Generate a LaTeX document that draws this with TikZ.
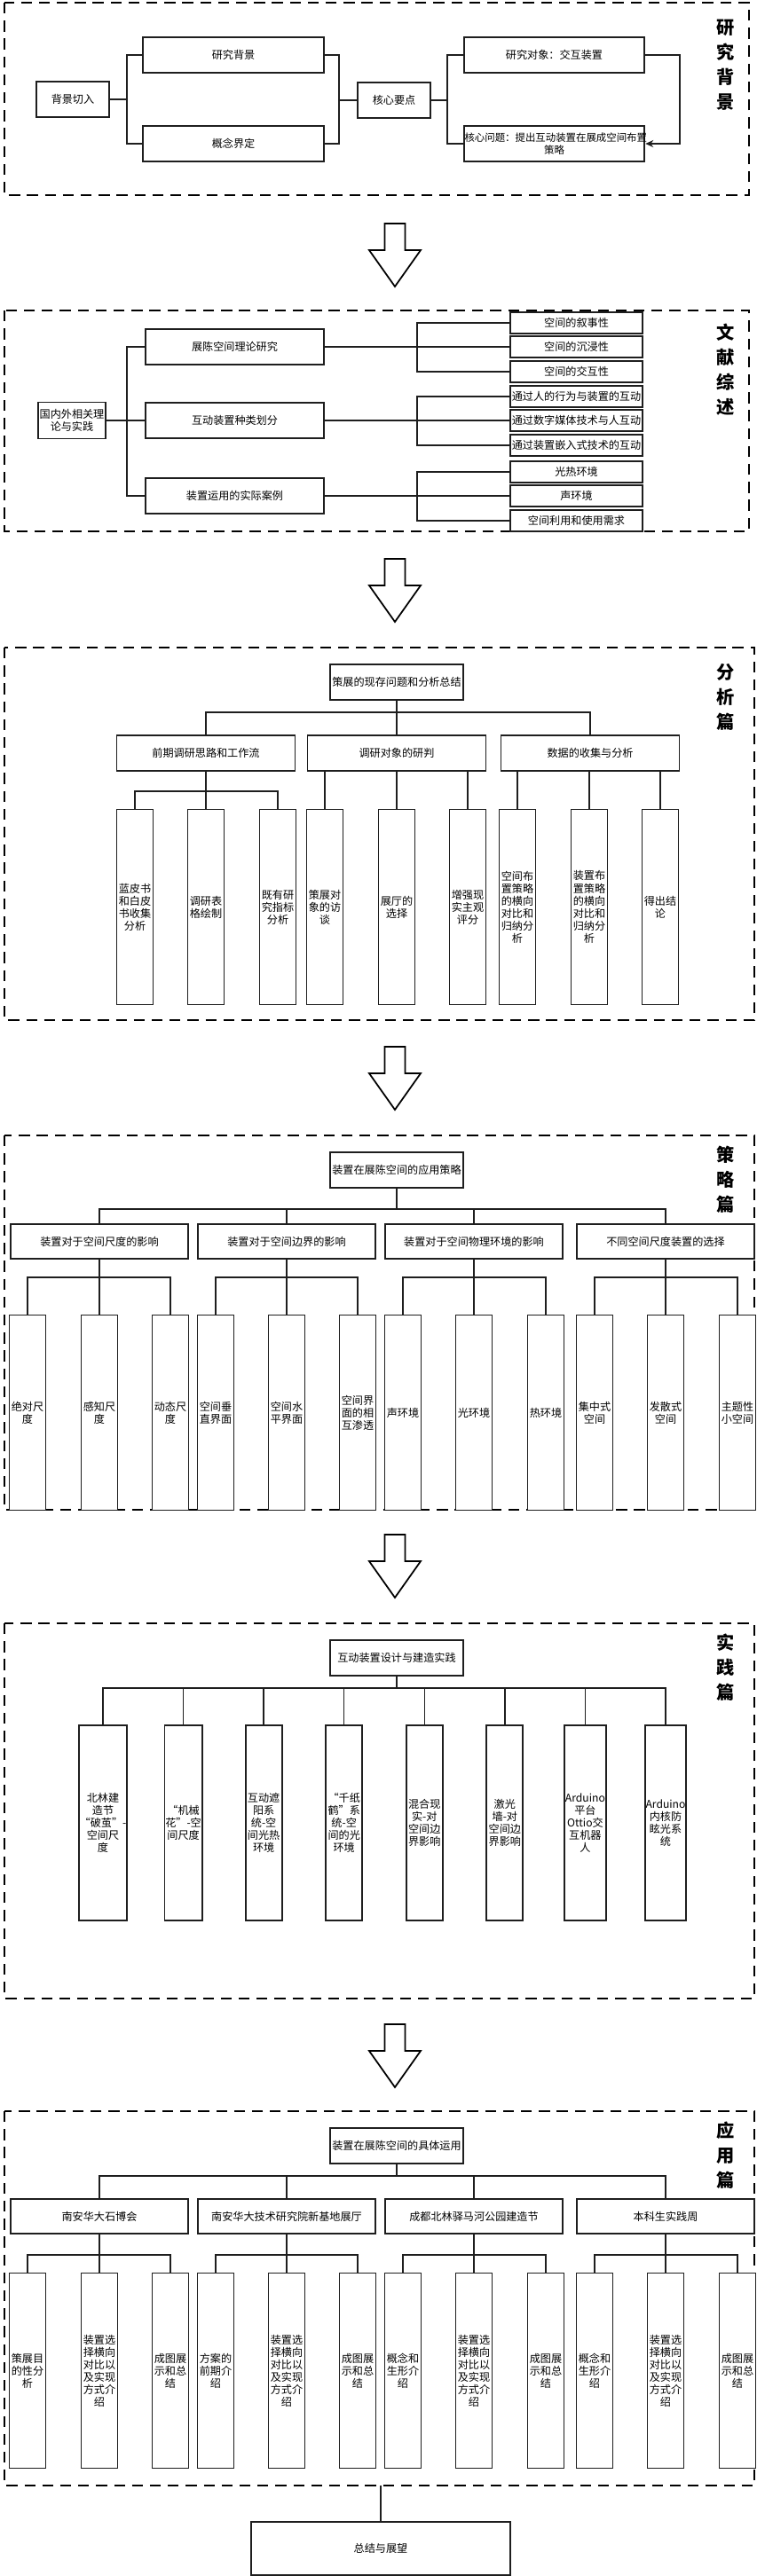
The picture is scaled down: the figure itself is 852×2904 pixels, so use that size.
\documentclass[tikz,border=0pt]{standalone}
\usepackage{fontspec}
\setmainfont{Noto Sans CJK SC}
\usetikzlibrary{arrows.meta,calc}
\definecolor{ink}{RGB}{30,30,30}
\newcommand\boxfont{\fontsize{6.9}{8}\selectfont}
\newcommand\tagfont{\fontsize{11.5}{15.9}\selectfont\bfseries}
\tikzset{
  >={Stealth[length=1.8mm,width=1.6mm]},
  box/.style={draw=ink,line width=1pt,fill=white,inner sep=0.5pt,align=center,
    font=\boxfont,minimum width=#1,minimum height=0.8cm},
  box/.default=4.02cm,
  leaf/.style={box=0.82cm,minimum height=4.4cm},
  item/.style={box=2.98cm,minimum height=0.48cm},
  link/.style={draw=ink,line width=0.85pt},
  frame/.style={draw=black,line width=1.4pt,dash pattern=on 7pt off 4.5pt},
  tag/.style={font=\tagfont,align=center,inner sep=0pt},
  bigarrow/.style={draw=black,line width=1pt,fill=white,line join=miter},
}

\begin{document}
\begin{tikzpicture}[x=0.02cm,y=-0.02cm]
\useasboundingbox (0,0) rectangle (852,2904);

% 研究背景
\draw[frame] (5,3) rectangle (844,220);
\node[tag] (t1) at (818,73) {研\\究\\背\\景};
\node[box=1.64cm] (bjqr) at (82,112) {背景切入};
\node[box=4.08cm] (yjbj) at (263,62) {研究背景};
\node[box=4.08cm] (gnjd) at (263,162) {概念界定};
\node[box=1.64cm] (hxyd) at (444,113) {核心要点};
\node[box=4.06cm] (yjdx) at (624.5,62) {研究对象：交互装置};
\node[box=4.06cm,text width=4.04cm,font=\fontsize{6.5}{8}\selectfont] (hxwt) at (624.5,162)
  {核心问题：提出互动装置在展成空间布置\\策略};
\coordinate (j0) at ($(bjqr.east)+(19,0)$);
\draw[link] (bjqr.east) -- (j0);
\draw[link] (yjbj.west) -| (j0) |- (gnjd.west);
\coordinate (j1) at ($(hxyd.west)+(-20,0)$);
\draw[link] (yjbj.east) -| (j1) |- (gnjd.east);
\draw[link] (j1) -- (hxyd.west);
\coordinate (j2) at ($(hxyd.east)+(18,0)$);
\draw[link] (hxyd.east) -- (j2);
\draw[link] (yjdx.west) -| (j2) |- (hxwt.west);
\draw[link,->] (yjdx.east) -- ++(39,0) |- (hxwt.east);

% 文献综述
\draw[frame] (5,350) rectangle (844,599);
\node[tag] (t2) at (818,417) {文\\献\\综\\述};
\node[box=1.52cm,minimum height=0.82cm] (gnw) at (81,474) {国内外相关理\\论与实践};
\node[box] (zlk) at (264.5,391) {展陈空间理论研究};
\node[box] (zzk) at (264.5,474) {互动装置种类划分};
\node[box] (alk) at (264.5,559) {装置运用的实际案例};
\foreach \y/\t [count=\i] in {364/空间的叙事性,391/空间的沉浸性,419/空间的交互性,
    447/通过人的行为与装置的互动,474/通过数字媒体技术与人互动,502/通过装置嵌入式技术的互动,
    532/光热环境,559/声环境,587/空间利用和使用需求}
  \node[item] (s\i) at (649.5,\y) {\t};
\coordinate (k0) at ($(gnw.east)+(23,0)$);
\draw[link] (gnw.east) -- (zzk.west);
\draw[link] (zlk.west) -| (k0) |- (alk.west);
\foreach \m/\a/\b/\c in {zlk/s1/s2/s3,zzk/s4/s5/s6,alk/s7/s8/s9} {
  \draw[link] (\m.east) -- (\b.west);
  \draw[link] (\a.west) -| ($(\m.east)!.5!(\b.west)$) |- (\c.west);
}

% 分析篇
\draw[frame] (5,730) rectangle (850,1150);
\node[tag] (t3) at (818,786) {分\\析\\篇};
\node[box=3cm] (fxzj) at (447,769) {策展的现存问题和分析总结};
\node[box] (qqdy) at (232,849) {前期调研思路和工作流};
\node[box] (dydx) at (447,849) {调研对象的研判};
\node[box] (sjfx) at (665,849) {数据的收集与分析};
\foreach \x/\t [count=\i] in {152/{蓝皮书\\和白皮\\书收集\\分析},232/{调研表\\格绘制},
    313/{既有研\\究指标\\分析},366/{策展对\\象的访\\谈},447/{展厅的\\选择},
    527/{增强现\\实主观\\评分},583/{空间布\\置策略\\的横向\\对比和\\归纳分\\析},
    664/{装置布\\置策略\\的横向\\对比和\\归纳分\\析},744/{得出结\\论}}
  \node[leaf] (a\i) at (\x,1022.5) {\t};
\coordinate (b3) at ($(fxzj.south)+(0,13)$);
\draw[link] (fxzj.south) -- (b3) -- (dydx.north);
\draw[link] (qqdy.north) |- (b3) -| (sjfx.north);
\coordinate (b31) at ($(qqdy.south)+(0,22)$);
\draw[link] (qqdy.south) -- (b31) -- (a2.north);
\draw[link] (a1.north) |- (b31) -| (a3.north);
\foreach \n in {4,5,6} \draw[link] (a\n.north) -- (a\n.north |- dydx.south);
\foreach \n in {7,8,9} \draw[link] (a\n.north) -- (a\n.north |- sjfx.south);

% 策略篇
\draw[frame] (5,1280) rectangle (850,1702);
\node[tag] (t4) at (818,1330) {策\\略\\篇};
\node[box=3cm] (clzl) at (447,1319) {装置在展陈空间的应用策略};
\foreach \x/\t [count=\i] in {112/装置对于空间尺度的影响,323/装置对于空间边界的影响,
    534/装置对于空间物理环境的影响,750/不同空间尺度装置的选择}
  \node[box=4cm,minimum height=0.78cm] (cd\i) at (\x,1399.5) {\t};
\foreach \x/\t [count=\i] in {31/{绝对尺\\度},112/{感知尺\\度},192/{动态尺\\度},
    243/{空间垂\\直界面},323/{空间水\\平界面},403/{空间界\\面的相\\互渗透},
    454/声环境,534/光环境,615/热环境,670/{集中式\\空间},750/{发散式\\空间},831/{主题性\\小空间}}
  \node[leaf] (c\i) at (\x,1592.5) {\t};
\coordinate (b4) at ($(clzl.south)+(0,23)$);
\draw[link] (clzl.south) -- (b4);
\draw[link] (cd1.north) |- (b4) -| (cd4.north);
\draw[link] (cd2.north) -- (cd2.north |- b4);
\draw[link] (cd3.north) -- (cd3.north |- b4);
\foreach \g/\a/\b/\c in {1/1/2/3,2/4/5/6,3/7/8/9,4/10/11/12} {
  \draw[link] (cd\g.south) -- (c\b.north);
  \draw[link] (c\a.north) |- ($(cd\g.south)+(0,20)$) -| (c\c.north);
}

% 实践篇
\draw[frame] (5,1830) rectangle (850,2253);
\node[tag] (t5) at (818,1880) {实\\践\\篇};
\node[box=3cm] (sjsj) at (447,1869) {互动装置设计与建造实践};
\foreach \t [count=\i] in {{北林建\\造节\\“破茧”-\\空间尺\\度},{“机械\\花”-空\\间尺度},
    {互动遮\\阳系\\统-空\\间光热\\环境},{“千纸\\鹤”系\\统-空\\间的光\\环境},
    {混合现\\实-对\\空间边\\界影响},{激光\\墙-对\\空间边\\界影响},
    {Arduino\\平台\\Ottio交\\互机器\\人},{Arduino\\内核防\\眩光系\\统}}
  \node[leaf] (p\i) at ({116+90.57*(\i-1)},2055) {\t};
\coordinate (b5) at ($(sjsj.south)+(0,13)$);
\draw[link] (sjsj.south) -- (b5);
\draw[link] (p1.north) |- (b5) -| (p8.north);
\foreach \n in {2,...,7} \draw[link] (p\n.north) -- (p\n.north |- b5);

% 应用篇
\draw[frame] (5,2380) rectangle (850,2802);
\node[tag] (t6) at (818,2430) {应\\用\\篇};
\node[box=3cm] (yyzl) at (447,2419) {装置在展陈空间的具体运用};
\foreach \x/\t [count=\i] in {112/南安华大石博会,323/南安华大技术研究院新基地展厅,
    534/成都北林驿马河公园建造节,750/本科生实践周}
  \node[box=4cm,minimum height=0.78cm] (yy\i) at (\x,2498.5) {\t};
\foreach \x/\t [count=\i] in {31/{策展目\\的性分\\析},112/{装置选\\择横向\\对比以\\及实现\\方式介\\绍},192/{成图展\\示和总\\结},
    243/{方案的\\前期介\\绍},323/{装置选\\择横向\\对比以\\及实现\\方式介\\绍},403/{成图展\\示和总\\结},
    454/{概念和\\生形介\\绍},534/{装置选\\择横向\\对比以\\及实现\\方式介\\绍},615/{成图展\\示和总\\结},
    670/{概念和\\生形介\\绍},750/{装置选\\择横向\\对比以\\及实现\\方式介\\绍},831/{成图展\\示和总\\结}}
  \node[leaf] (u\i) at (\x,2672.5) {\t};
\coordinate (b6) at ($(yyzl.south)+(0,13)$);
\draw[link] (yyzl.south) -- (b6);
\draw[link] (yy1.north) |- (b6) -| (yy4.north);
\draw[link] (yy2.north) -- (yy2.north |- b6);
\draw[link] (yy3.north) -- (yy3.north |- b6);
\foreach \g/\a/\b/\c in {1/1/2/3,2/4/5/6,3/7/8/9,4/10/11/12} {
  \draw[link] (yy\g.south) -- (u\b.north);
  \draw[link] (u\a.north) |- ($(yy\g.south)+(0,23)$) -| (u\c.north);
}

\coordinate (yybot) at (429,2802);
\node[box=5.84cm,minimum height=1.2cm] (zjzw) at (429,2873) {总结与展望};
\draw[link] (yybot) -- (zjzw.north);

% arrows between parts
\foreach \y in {252,630,1180,1730,2282}
  \draw[bigarrow] (433.5,\y) -- (456.5,\y) -- (456.5,\y+30) -- (474,\y+30) -- (445,\y+71)
    -- (416,\y+30) -- (433.5,\y+30) -- cycle;
\end{tikzpicture}
\end{document}
